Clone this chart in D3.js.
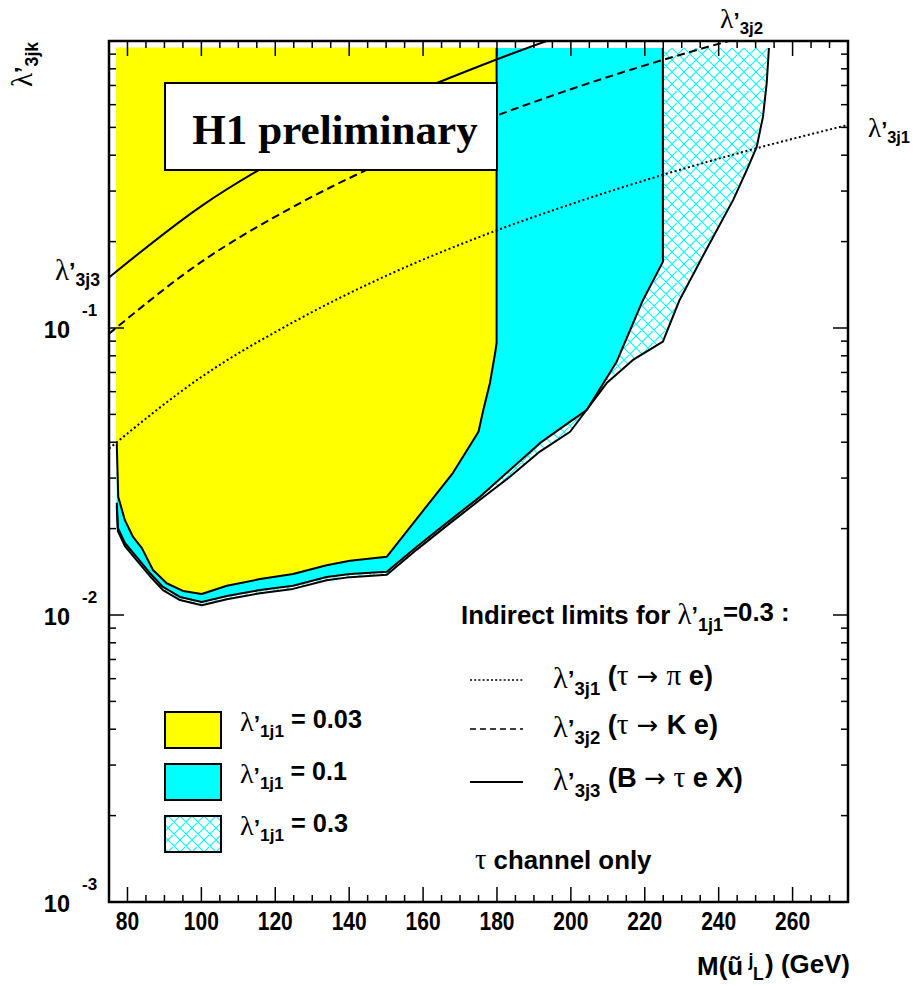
<!DOCTYPE html>
<html><head><meta charset="utf-8">
<script src="https://cdn.jsdelivr.net/npm/d3@7"></script>
<style>body{margin:0;background:#fff}</style>
</head><body>
<svg id="c" width="914" height="985" font-family="Liberation Sans, Arial, sans-serif" font-weight="bold"></svg>
<script>
// ---------------- data ----------------
const xMajorTicks = [80,100,120,140,160,180,200,220,240,260];
const xTickLabels = ["80","100","120","140","160","180","200","220","240","260"];
const yDecades = [0.001,0.01,0.1];
const yDecadeExp = ["-3","-2","-1"];
const regionTop = 0.945;

// excluded region lambda'_1j1 = 0.03
const mass003 = [77.1,77.5,79.3,81.5,83.9,86.9,90.6,95.0,100.1,106.9,115.9,124.8,133.9,140.2,150.2,168.1,175.0,176.3,178.1,179.5,179.9,179.9];
const lim003  = [0.0397,0.0258,0.0214,0.0187,0.0171,0.01435,0.0129,0.01213,0.01184,0.01265,0.01334,0.0139,0.0149,0.01545,0.01596,0.0313,0.0435,0.0518,0.0643,0.0818,0.0887,0.945];
// lambda'_1j1 = 0.1
const mass01 = [77.1,77.4,79.3,82.0,86.1,89.6,94.2,100.1,106.9,115.9,124.8,133.9,140.2,150.2,158.3,167.3,175.4,183.5,191.6,199.8,204.3,212.4,219.5,224.9,224.9];
const lim01  = [0.0246,0.0201,0.01782,0.01619,0.0140,0.01252,0.01156,0.0111,0.01164,0.01222,0.01265,0.01356,0.0139,0.01416,0.0173,0.0214,0.0258,0.0320,0.0397,0.0472,0.0518,0.0763,0.125,0.170,0.945];
// lambda'_1j1 = 0.3
const mass03 = [77.1,77.4,79.3,82.0,86.1,89.6,94.2,100.1,106.9,115.9,124.8,133.9,140.2,150.2,158.3,167.3,175.4,183.5,191.6,199.8,209.7,216.8,224.9,229.4,236.6,243.9,247.6,250.3,252.0,253.0,253.6];
const lim03  = [0.0240,0.0196,0.01738,0.01578,0.01365,0.01221,0.01127,0.01082,0.01135,0.01191,0.01233,0.01322,0.01355,0.01381,0.0169,0.0209,0.0252,0.0303,0.0371,0.0435,0.0643,0.0774,0.0896,0.125,0.187,0.279,0.355,0.428,0.545,0.714,0.945];

// indirect limits (lambda'_1j1 = 0.3)
const massInd = [75,100,125,150,175,200,225,250,275];
const ind3j1 = [0.0380,0.0675,0.105,0.152,0.207,0.270,0.342,0.422,0.510];
const ind3j2 = [0.0955,0.170,0.265,0.382,0.520,0.679,0.860,1.06,1.28];
const ind3j3 = [0.150,0.266,0.416,0.600,0.815,1.07,1.35,1.66,2.0];

// ---------------- chart ----------------
const svg = d3.select("#c");
const X0=109, X1=848, Y0=41, Y1=902;
const x = d3.scaleLinear().domain([75,275]).range([X0,X1]);
const y = d3.scaleLog().domain([1e-3,1]).range([Y1,Y0]);

const defs = svg.append("defs");
const pat = defs.append("pattern").attr("id","hatch").attr("patternUnits","userSpaceOnUse")
  .attr("width",12).attr("height",12);
pat.append("path").attr("d","M0,0L12,12M12,0L0,12M-1,11L1,13M11,-1L13,1M-1,1L1,-1M11,13L13,11")
  .attr("stroke","#00ffff").attr("stroke-width",1.1).attr("fill","none");
defs.append("clipPath").attr("id","plot").append("rect")
  .attr("x",X0).attr("y",Y0).attr("width",X1-X0).attr("height",Y1-Y0);

const g = svg.append("g").attr("clip-path","url(#plot)");
const pts = (m,v)=>m.map((d,i)=>[x(d),y(v[i])]);
const lin = d3.line();
function fillRegion(m,v,fill,edge){
  const p = pts(m,v).concat([[x(m[0]),y(regionTop)]]);
  const pa = g.append("path").attr("d",lin(p)+"Z").attr("fill",fill);
  if(edge) pa.attr("stroke",edge).attr("stroke-width",1.2); else pa.attr("stroke","none");
}
function outline(m,v){
  g.append("path").attr("d",lin(pts(m,v))).attr("fill","none").attr("stroke","#000").attr("stroke-width",2).attr("stroke-linejoin","round");
}
fillRegion(mass03,lim03,"url(#hatch)");
fillRegion(mass01,lim01,"#00ffff");
fillRegion(mass003,lim003,"#ffff00","#ffff00");
outline(mass03,lim03);
outline(mass01,lim01);
outline(mass003,lim003);

const cl = d3.line().curve(d3.curveMonotoneX);
g.append("path").attr("d",cl(pts(massInd,ind3j1))).attr("fill","none").attr("stroke","#000").attr("stroke-width",2).attr("stroke-dasharray","2,2.6");
g.append("path").attr("d",cl(pts(massInd,ind3j2))).attr("fill","none").attr("stroke","#000").attr("stroke-width",2).attr("stroke-dasharray","8,4.5");
g.append("path").attr("d",cl(pts(massInd,ind3j3))).attr("fill","none").attr("stroke","#000").attr("stroke-width",2);

// frame and ticks
const ax = svg.append("g").attr("stroke","#000");
ax.append("rect").attr("x",X0).attr("y",Y0).attr("width",X1-X0).attr("height",Y1-Y0).attr("fill","none").attr("stroke-width",2.5);
const xMinor = d3.range(80,275,5).filter(v=>v%20!==0);
function tk(x1,y1,x2,y2){ax.append("line").attr("x1",x1).attr("y1",y1).attr("x2",x2).attr("y2",y2).attr("stroke-width",1.5);}
xMajorTicks.forEach(v=>{ tk(x(v),Y1,x(v),Y1-15); tk(x(v),Y0,x(v),Y0+15); });
xMinor.forEach(v=>{ tk(x(v),Y1,x(v),Y1-7); tk(x(v),Y0,x(v),Y0+7); });
yDecades.forEach(d=>{
  tk(X0,y(d),X0+15,y(d)); tk(X1,y(d),X1-15,y(d));
  for(let k=2;k<=9;k++){ const v=d*k; tk(X0,y(v),X0+7,y(v)); tk(X1,y(v),X1-7,y(v)); }
});

// helpers for rich text (sizes in em so the whole text scales together)
function serif(s){ return s.attr("font-family","Liberation Serif, Times New Roman, serif").attr("font-weight","normal"); }
function seg(t,txt,o){
  o=o||{};
  const s=t.append("tspan").text(txt);
  if(o.serif) serif(s);
  if(o.arrow) s.attr("font-family","DejaVu Sans").attr("font-weight","normal");
  if(o.size) s.attr("font-size",o.size+"em");
  if(o.dy) s.attr("dy",o.dy+"em");
  if(o.dx) s.attr("dx",o.dx+"em");
  return s;
}
function lam(parent,x0,y0,sub,size,anchor){
  const t = parent.append("text").attr("x",x0).attr("y",y0).attr("font-size",size).attr("text-anchor",anchor||"start");
  seg(t,"λ",{serif:true,size:1.12});
  seg(t,"’",{size:0.9});
  seg(t,sub,{size:0.68,dy:0.36});
  return t;
}
function fit(t,w){
  const f = +t.attr("font-size");
  const bw = t.node().getBBox().width;
  t.attr("font-size", f*w/bw);
  return t;
}

// tick labels (tall, narrow digits as in the reference)
xMajorTicks.forEach((v,i)=>{
  svg.append("text").attr("transform",`translate(${x(v)},930) scale(1,1.22)`)
    .attr("text-anchor","middle").attr("font-size",21).text(xTickLabels[i]);
});
yDecades.forEach((d,i)=>{
  svg.append("text").attr("x",70).attr("y",y(d)+9.5).attr("text-anchor","end").attr("font-size",23.5).text("10");
  svg.append("text").attr("x",82).attr("y",y(d)-12.5).attr("font-size",17).text(yDecadeExp[i]);
});

// curve labels
fit(lam(svg,55,280,"3j3",22),45);
fit(lam(svg,720,28,"3j2",22),43);
fit(lam(svg,868,137,"3j1",22),42);

// y axis title
const yt = svg.append("g").attr("transform","translate(32,87) rotate(-90)");
fit(lam(yt,0,0,"3jk",22),46);

// H1 box
svg.append("rect").attr("x",165).attr("y",83).attr("width",332).attr("height",87).attr("fill","#fff").attr("stroke","#000").attr("stroke-width",2);
const h1 = svg.append("text").attr("x",335).attr("y",144).attr("text-anchor","middle").attr("font-size",43).text("H1 preliminary");
serif(h1).attr("font-weight","bold");
fit(h1,286);

// left legend
const legFills = ["#ffff00","#00ffff","url(#hatch)"];
const legVals = ["0.03","0.1","0.3"];
const legW = [122,107,108];
legFills.forEach((f,i)=>{
  const yy = 712 + i*52;
  svg.append("rect").attr("x",165).attr("y",yy).attr("width",56).attr("height",36).attr("fill",f).attr("stroke","#000").attr("stroke-width",2);
  const t = lam(svg,240,yy+19,"1j1",22);
  seg(t," = "+legVals[i],{dy:-0.36});
  fit(t,legW[i]);
});

// right legend
const rl = svg.append("g");
const t0 = rl.append("text").attr("x",461).attr("y",624).attr("font-size",20);
seg(t0,"Indirect limits for ");
seg(t0,"λ",{serif:true,size:1.12});
seg(t0,"’",{size:0.9});
seg(t0,"1j1",{size:0.7,dy:0.36});
seg(t0,"=0.3 :",{dy:-0.36});
fit(t0,329);

const styles = ["2,2.2","6,4",null];
const rows = [["3j1",[["(",0],["τ",1],[" → ",2],["π",1],[" e)",0]]],
              ["3j2",[["(",0],["τ",1],[" → ",2],["K e)",0]]],
              ["3j3",[["(B ",0],["→",2],[" τ",1],[" e X)",0]]]];
const rowW = [160,165,190];
[680,729,782].forEach((yy,i)=>{
  const ln = rl.append("line").attr("x1",470).attr("x2",523).attr("y1",yy).attr("y2",yy).attr("stroke","#000").attr("stroke-width",i==2?2:1.3);
  if(styles[i]) ln.attr("stroke-dasharray",styles[i]);
  const t = lam(rl,553,yy+8,rows[i][0],22);
  rows[i][1].forEach((p,j)=>{
    const s = seg(t,(j==0?" ":"")+p[0],{serif:p[1]==1,arrow:p[1]==2,size:p[1]==1?1.08:(p[1]==2?0.95:1)});
    if(j==0) s.attr("dy","-0.36em");
  });
  fit(t,rowW[i]);
});
const tc = rl.append("text").attr("x",475).attr("y",869).attr("font-size",21);
seg(tc,"τ",{serif:true,size:1.1});
seg(tc," channel only");
fit(tc,177);

// x axis title
const xt = svg.append("text").attr("x",850).attr("y",975).attr("text-anchor","end").attr("font-size",24);
seg(xt,"M(ũ");
seg(xt,"j",{size:0.68,dy:-0.5,dx:0.3});
seg(xt,"L",{size:0.68,dy:0.8,dx:-0.02});
seg(xt,") (GeV)",{dy:-0.3,dx:0.05});
fit(xt,153);
</script>
</body></html>
